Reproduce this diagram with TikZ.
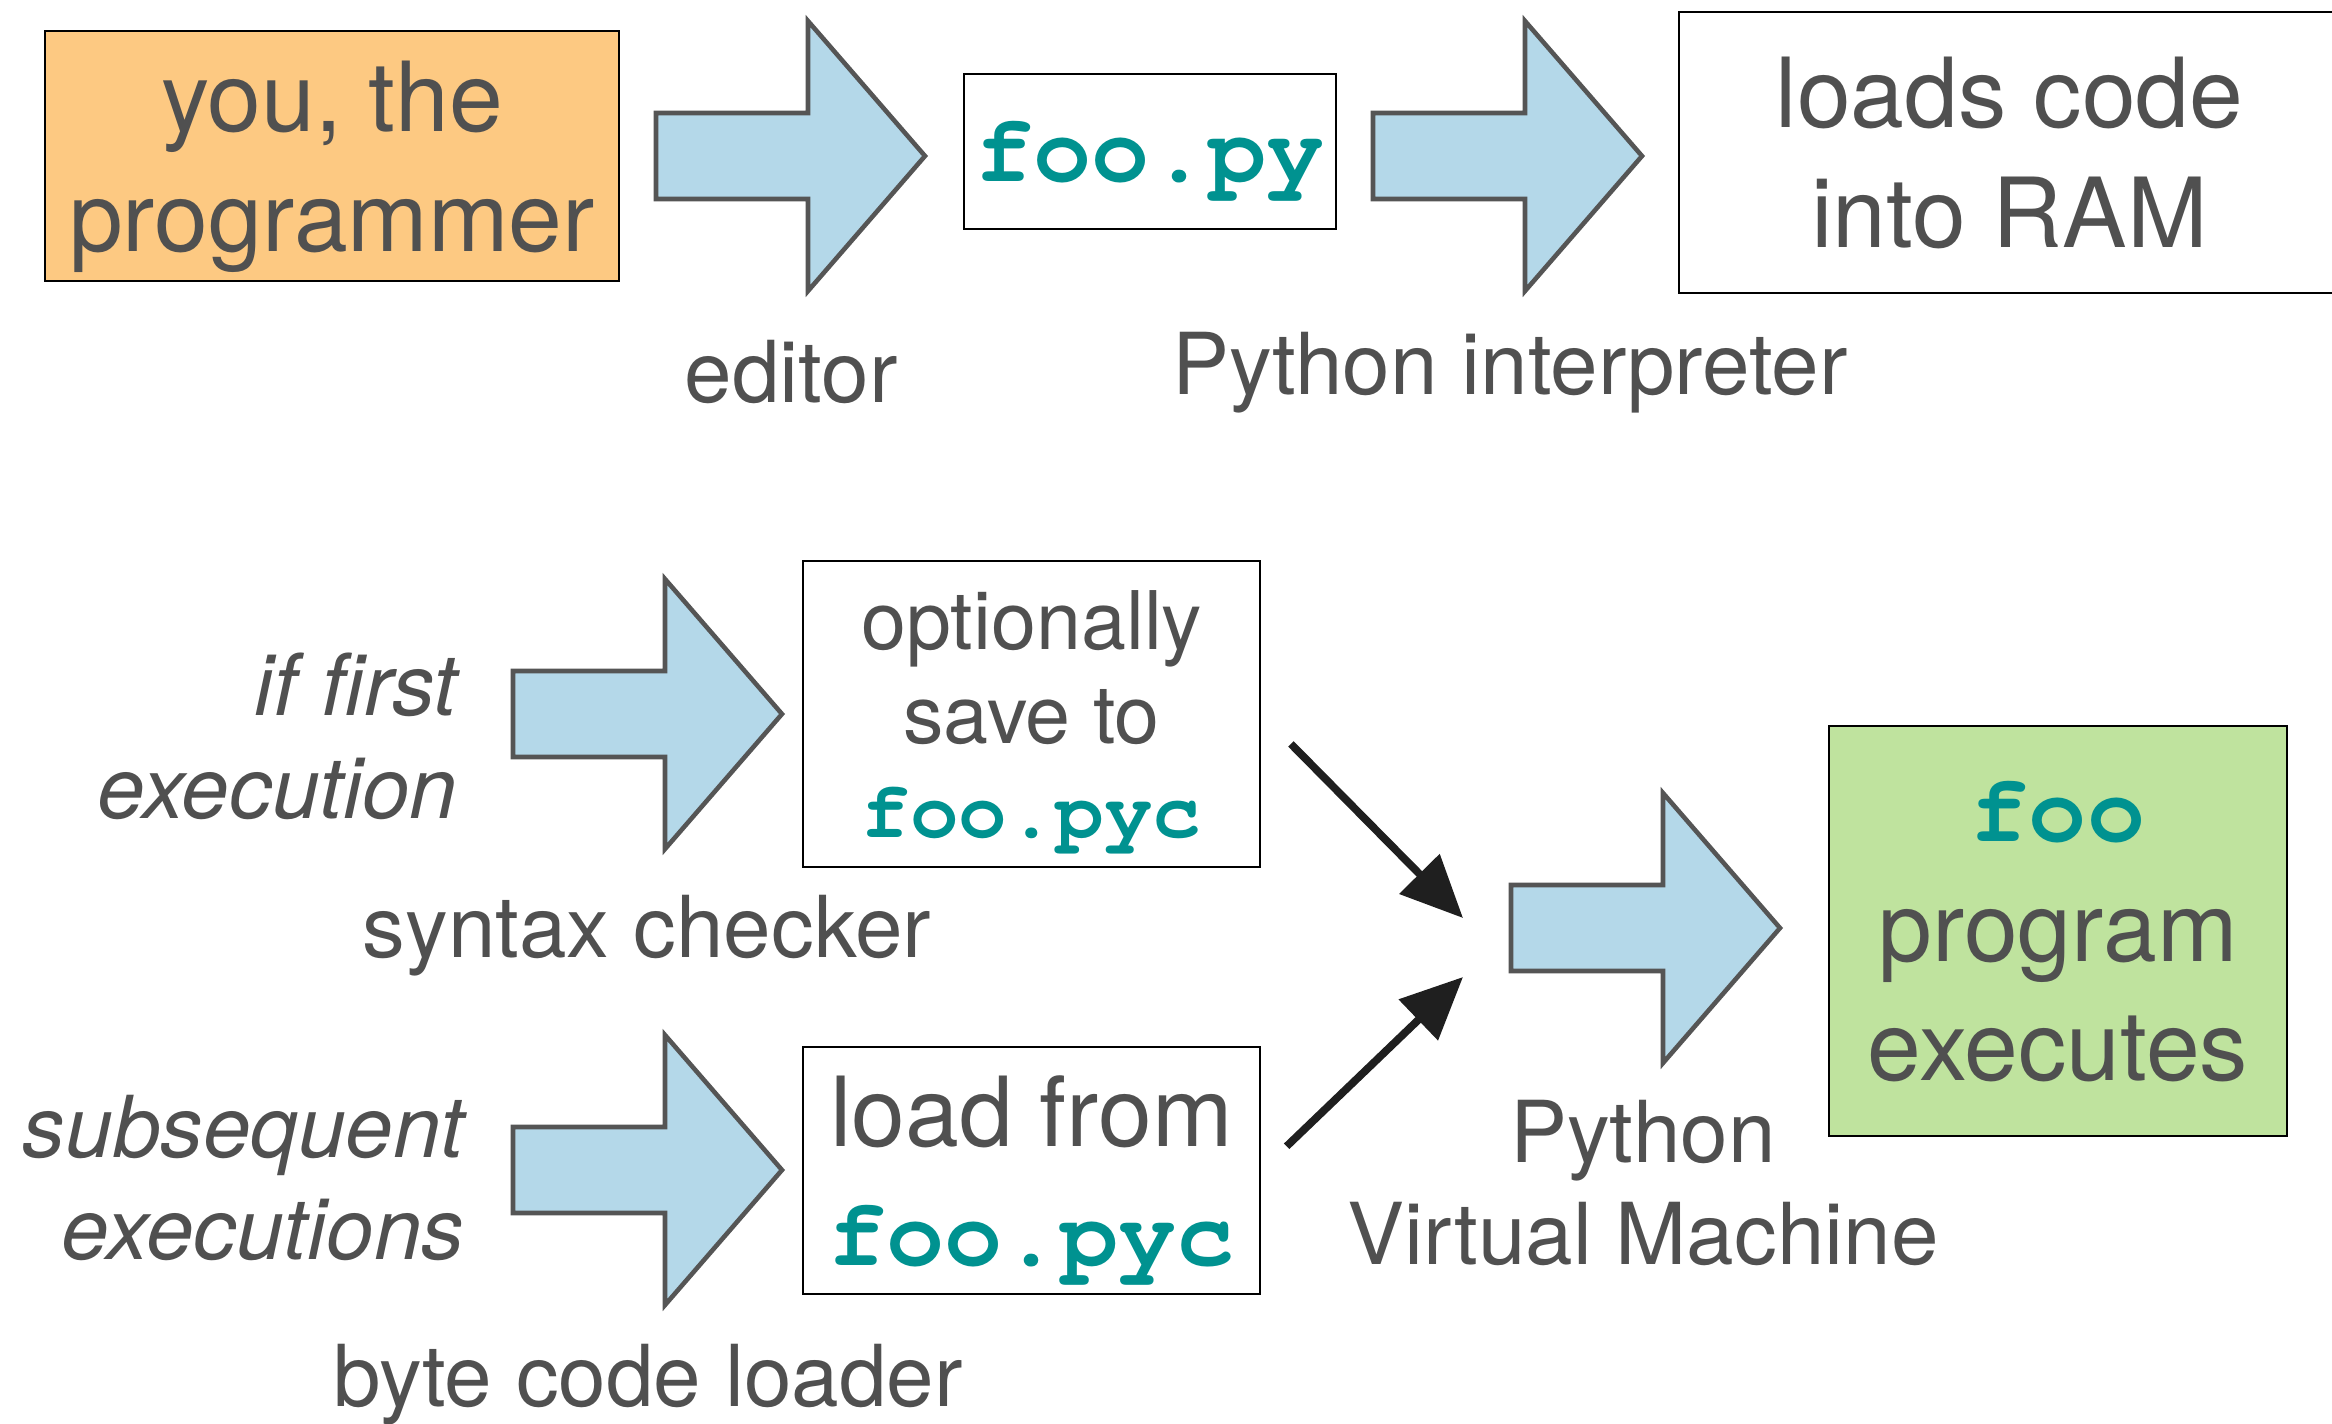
\documentclass[tikz,border=0pt]{standalone}
\usepackage{fontspec}
\setmainfont{TeX Gyre Heros}
\setmonofont{TeX Gyre Cursor}
\usetikzlibrary{arrows.meta}

\definecolor{txtgray}{RGB}{80,80,80}
\definecolor{codeteal}{RGB}{0,146,144}
\definecolor{progorange}{RGB}{253,201,130}
\definecolor{arrowblue}{RGB}{180,216,233}
\definecolor{runsgreen}{RGB}{191,227,158}
\definecolor{arrowedge}{RGB}{85,85,85}

\newcommand{\code}[1]{{\ttfamily\bfseries\color{codeteal}#1}}
\newcommand{\bigtext}{\fontsize{27.5}{34}\selectfont}
\newcommand{\labeltext}{\fontsize{24.3}{29.2}\selectfont}
\newcommand{\smalltext}{\fontsize{23}{26.7}\selectfont}

\begin{document}
\begin{tikzpicture}[x=0.01cm, y=-0.01cm,
		box/.style={draw=black, line width=0.7pt, inner sep=0pt, align=center, text=txtgray, text depth=0pt},
		lbl/.style={text=txtgray, align=center, inner sep=0pt, font=\labeltext},
		fat/.style={draw=arrowedge, line width=1.3pt, fill=arrowblue, line join=miter},
		flow/.style={draw=black!88, line width=2.2pt, -{Triangle[length=0.62cm, width=0.55cm]}}]
		\useasboundingbox (0,0) rectangle (2332,1423);

		\foreach \ax/\ay in {656/156, 1373/156, 513/714, 513/1170, 1511/928}
			\draw[fat] (\ax,\ay-43) -- (\ax+152,\ay-43) -- (\ax+152,\ay-135) -- (\ax+269,\ay)
				-- (\ax+152,\ay+135) -- (\ax+152,\ay+43) -- (\ax,\ay+43) -- cycle;

		\node[box, fill=progorange, minimum width=5.74cm, minimum height=2.50cm, font=\bigtext] (you) at (332,156) {you, the\\programmer};
		\node[box, minimum width=3.72cm, minimum height=1.55cm, font=\bigtext] (src) at (1150,151.5) {\code{foo.py}};
		\node[box, minimum width=6.61cm, minimum height=2.81cm, font=\bigtext] (ram) at (2009.5,152.5) {loads code\\into RAM};
		\node[box, minimum width=4.57cm, minimum height=3.06cm, font=\smalltext] (save) at (1031.5,714) {optionally\\save to\\\code{foo.pyc}};
		\node[box, minimum width=4.57cm, minimum height=2.47cm, font=\bigtext] (load) at (1031.5,1170.5) {load from\\\code{foo.pyc}};
		\node[box, fill=runsgreen, minimum width=4.58cm, minimum height=4.10cm, font=\bigtext] (run) at (2058,931) {\code{foo}\\program\\executes};

		\node[lbl] (editor) at (791,372) {editor};
		\node[lbl] (interp) at (1510,373) {Python interpreter};
		\node[lbl, anchor=east, align=right, font=\labeltext\itshape] (first) at (458,736) {if first\\execution};
		\node[lbl, anchor=east, align=right, font=\labeltext\itshape] (later) at (465,1178) {subsequent\\executions};
		\node[lbl] (checker) at (647,936) {syntax checker};
		\node[lbl] (loader) at (648,1385) {byte code loader};
		\node[lbl] (pvm) at (1643,1183) {Python\\Virtual Machine};

		\coordinate (vm-top) at (1463,918);
		\coordinate (vm-bot) at (1463,977);
		\draw[flow, shorten <=0.42cm] (save.east) -- (vm-top);
		\draw[flow, shorten <=0.35cm] (load.east) -- (vm-bot);
	\end{tikzpicture}
\end{document}
